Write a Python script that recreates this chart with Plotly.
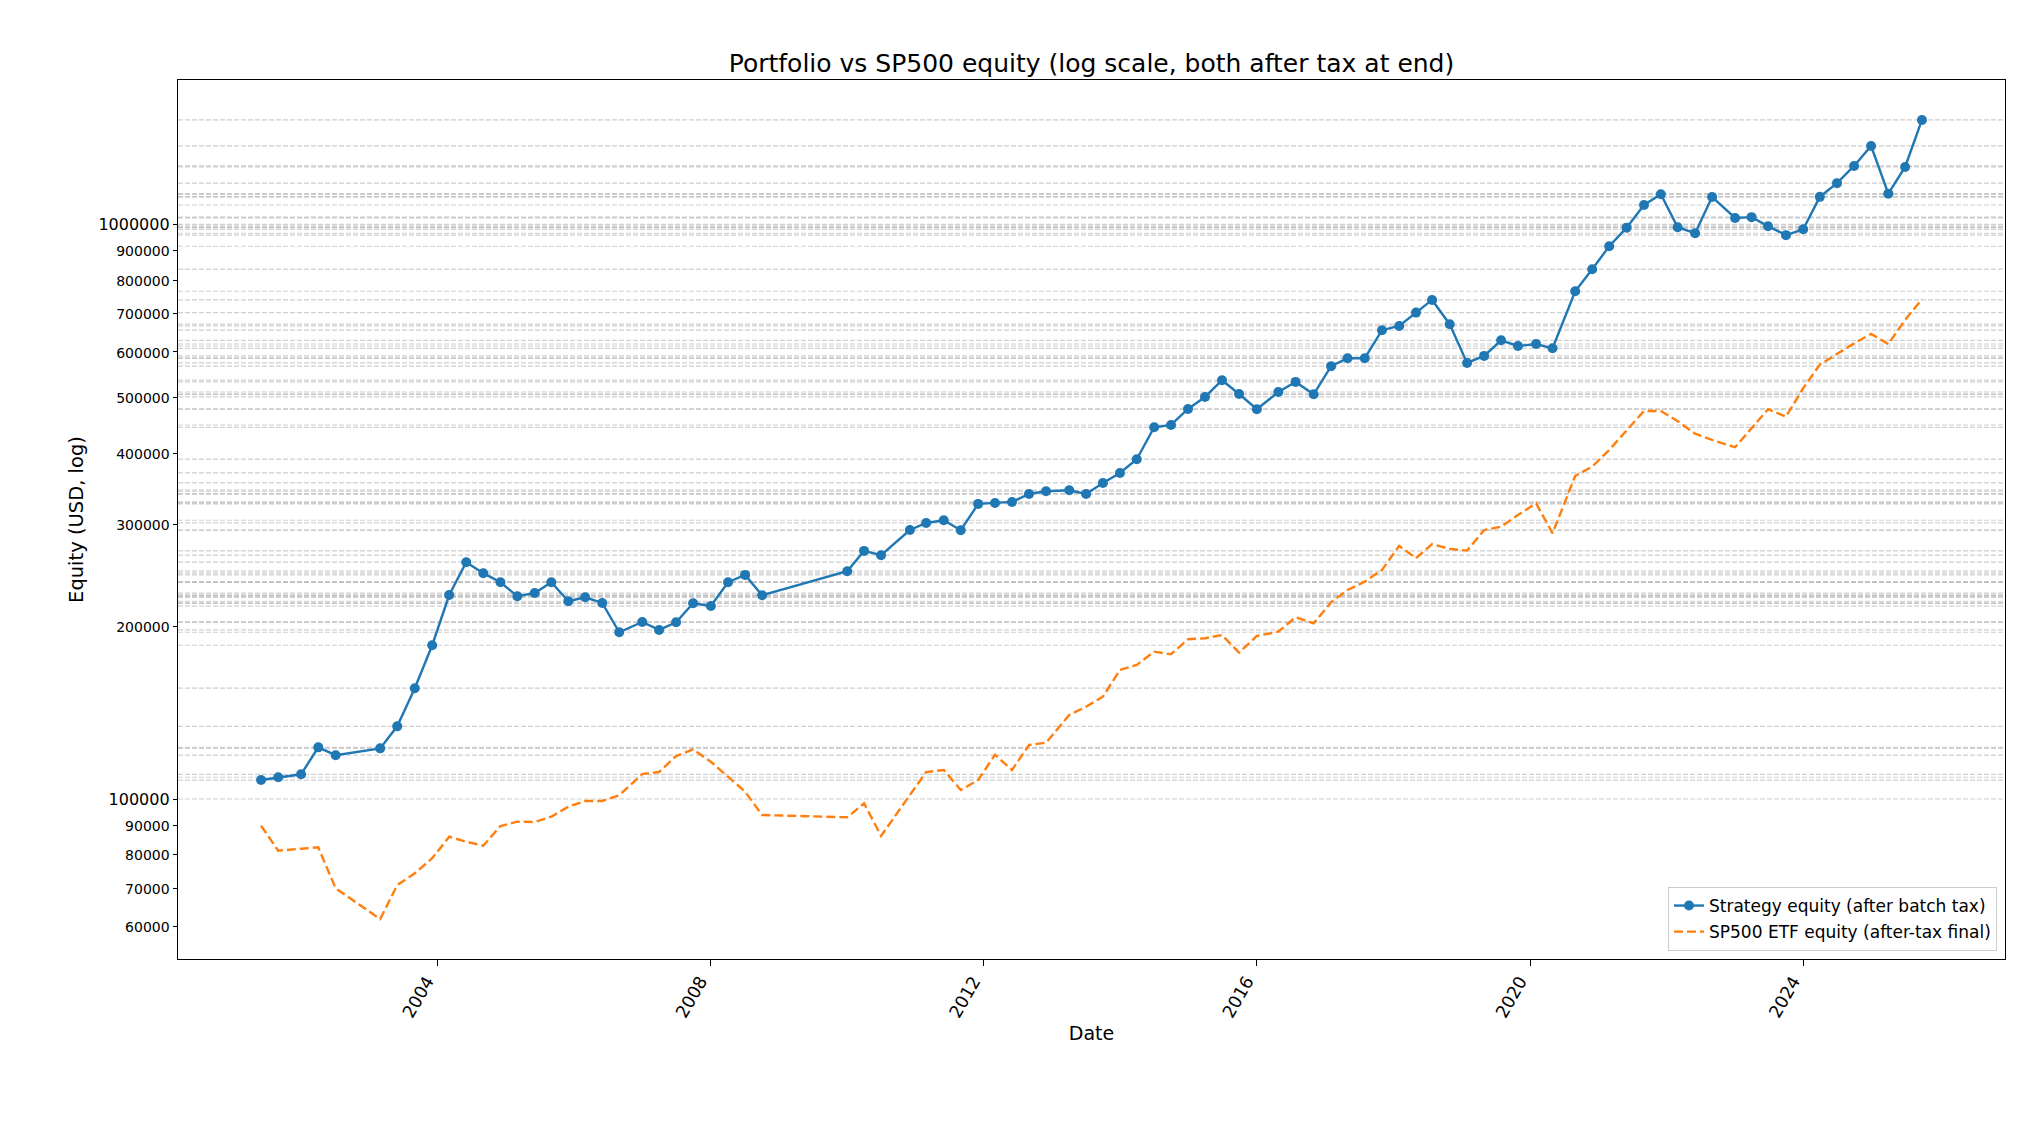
import numpy as np
import pandas as pd
import plotly.graph_objects as go

# fechas de rebalanceo (trimestral, con un hueco 2008-2010)
DATES = ["2001-06-04", "2001-09-04", "2002-01-04", "2002-04-06", "2002-07-08", "2003-03-03", "2003-06-02", "2003-09-04", "2003-12-06", "2004-03-06",
         "2004-06-05", "2004-09-04", "2004-12-05", "2005-03-05", "2005-06-06", "2005-09-03", "2005-12-03", "2006-03-03", "2006-06-02", "2006-09-01",
         "2007-01-02", "2007-04-02", "2007-07-02", "2007-10-01", "2008-01-04", "2008-04-05", "2008-07-05", "2008-10-04", "2010-01-02", "2010-04-02",
         "2010-07-02", "2010-12-03", "2011-02-28", "2011-06-02", "2011-09-01", "2011-12-03", "2012-03-02", "2012-06-01", "2012-08-31", "2012-11-30",
         "2013-04-03", "2013-07-02", "2013-09-30", "2013-12-30", "2014-03-30", "2014-07-01", "2014-09-29", "2014-12-29", "2015-03-30", "2015-06-29",
         "2015-09-28", "2016-01-01", "2016-04-25", "2016-07-26", "2016-10-31", "2017-02-01", "2017-04-30", "2017-07-31", "2017-10-31", "2018-01-31",
         "2018-05-01", "2018-07-26", "2018-10-28", "2019-01-29", "2019-04-30", "2019-07-30", "2019-10-28", "2020-02-02", "2020-04-30", "2020-08-29",
         "2020-11-28", "2021-02-27", "2021-05-31", "2021-09-01", "2021-11-30", "2022-02-28", "2022-06-01", "2022-08-31", "2023-01-01", "2023-03-30",
         "2023-06-26", "2023-09-30", "2023-12-31", "2024-03-29", "2024-06-29", "2024-09-28", "2024-12-28", "2025-03-30", "2025-06-28", "2025-09-26"]

strategy_equity = [107900, 109100, 110400, 123000, 119200, 122500, 133800, 155900, 185200, 226500,
                   258300, 247200, 238400, 225300, 228300, 238400, 220900, 224400, 219400, 195100,
                   203300, 196900, 203000, 219100, 216700, 238400, 245500, 226200, 249200, 270300,
                   265700, 293900, 302300, 305600, 293600, 326300, 327600, 328900, 339600, 343300,
                   344700, 339600, 354900, 369400, 390300, 443600, 447700, 477400, 500900, 535700,
                   506900, 476800, 511000, 532100, 506300, 566600, 585100, 585100, 654600, 665900,
                   702400, 739000, 670500, 574100, 590500, 628600, 614400, 619300, 608800, 765200,
                   835800, 916400, 987300, 1081200, 1128600, 988900, 965400, 1116500, 1026400, 1029700,
                   993200, 958100, 980900, 1117000, 1180000, 1264400, 1369700, 1131400, 1259400, 1520200]

sp500_equity = [89850, 81280, 81940, 82400, 69900, 61810, 70830, 74230, 78860, 85970,
                84260, 82930, 89750, 91300, 91200, 93150, 96960, 99200, 99200, 101500,
                110500, 111400, 118800, 122000, 116100, 109350, 102970, 93790, 92930, 98290,
                86220, 101620, 111400, 112330, 103670, 107910, 119430, 112330, 124170, 125310,
                140040, 144780, 150700, 167760, 171160, 180480, 178610, 189670, 190430, 192970,
                179760, 192200, 195540, 207160, 202230, 219970, 231080, 238950, 250460, 275770,
                262490, 277660, 272480, 270630, 293900, 297810, 312100, 327060, 290040, 365010,
                378860, 405100, 438830, 473590, 473590, 454610, 432370, 421590, 409510, 441830,
                476820, 462880, 518660, 570240, 594760, 620840, 644890, 619340, 682140, 741090]

X_TICK_YEARS = ["2004", "2008", "2012", "2016", "2020", "2024"]
Y_MAJOR = [100000, 1000000]
Y_MINOR = [60000, 70000, 80000, 90000, 200000, 300000, 400000, 500000, 600000, 700000, 800000, 900000]

BLUE = "#1f77b4"
ORANGE = "#ff7f0e"
GRID = "rgba(176,176,176,0.6)"
FONT = "DejaVu Sans"

W, H = 2027, 1140
margin = dict(l=178, r=22, t=80, b=181, pad=0)

dates = pd.to_datetime(DATES)

# margenes automaticos como matplotlib (5%)
span = dates.max() - dates.min()
x_range = [dates.min() - 0.05 * span, dates.max() + 0.05 * span]
all_vals = np.array(strategy_equity + sp500_equity, dtype=float)
lo, hi = np.log10(all_vals.min()), np.log10(all_vals.max())
y_range = [lo - 0.05 * (hi - lo), hi + 0.05 * (hi - lo)]

# etiquetas del eje y: las mayores mas grandes
y_vals = sorted(Y_MAJOR + Y_MINOR)
y_text = [str(v) if v in Y_MAJOR else '<span style="font-size:14px">%d</span>' % v for v in y_vals]

fig = go.Figure()

fig.add_trace(go.Scatter(x=dates, y=strategy_equity, mode="lines+markers",
                         name="Strategy equity (after batch tax)", legendgroup="a",
                         line=dict(color=BLUE, width=2.4),
                         marker=dict(color=BLUE, size=10)))
fig.add_trace(go.Scatter(x=dates, y=sp500_equity, mode="lines",
                         name="SP500 ETF equity (after-tax final)", legendgroup="b",
                         line=dict(color=ORANGE, width=2.4, dash="9px,4px")))

# lineas de rejilla en cada valor de la estrategia + las decadas
for v in list(strategy_equity) + Y_MAJOR:
    fig.add_shape(type="line", xref="paper", x0=0, x1=1, yref="y", y0=v, y1=v,
                  line=dict(color=GRID, width=1.2, dash="5px,2px"), layer="below")

fig.update_layout(
    width=W, height=H, margin=margin,
    paper_bgcolor="white", plot_bgcolor="white",
    font=dict(family=FONT, color="black", size=16),
    title=dict(text="Portfolio vs SP500 equity (log scale, both after tax at end)",
               x=0.5, xref="paper", xanchor="center",
               y=1 - 63 / H, yref="container", yanchor="middle",
               font=dict(family=FONT, size=25, color="black")),
    showlegend=True,
    legend=dict(x=1 - 8 / (W - 200), y=8 / (H - 261), xanchor="right", yanchor="bottom",
                bgcolor="rgba(255,255,255,0.8)", bordercolor="#cccccc", borderwidth=1,
                tracegroupgap=1, font=dict(family=FONT, size=17)),
    xaxis=dict(type="date", range=x_range, automargin=False,
               tickmode="array", tickvals=[y + "-01-01" for y in X_TICK_YEARS], ticktext=X_TICK_YEARS,
               tickangle=-60, ticks="outside", ticklen=6, tickwidth=1.3, tickcolor="black",
               tickfont=dict(size=17.5), ticklabelshift=-10, ticklabelstandoff=-2,
               showgrid=False, zeroline=False, showline=True, mirror=True,
               linecolor="black", linewidth=1.3,
               title=dict(text="Date", font=dict(size=19), standoff=6)),
    yaxis=dict(type="log", range=y_range, automargin=False,
               tickmode="array", tickvals=y_vals, ticktext=y_text,
               ticks="outside", ticklen=4, tickwidth=1.3, tickcolor="black",
               tickfont=dict(size=16),
               showgrid=False, zeroline=False, showline=True, mirror=True,
               linecolor="black", linewidth=1.3,
               title=dict(text="Equity (USD, log)", font=dict(size=19.5), standoff=9)),
)

fig.write_html("out.html", config={"displayModeBar": False},
               post_script="document.body.style.margin='0';")
